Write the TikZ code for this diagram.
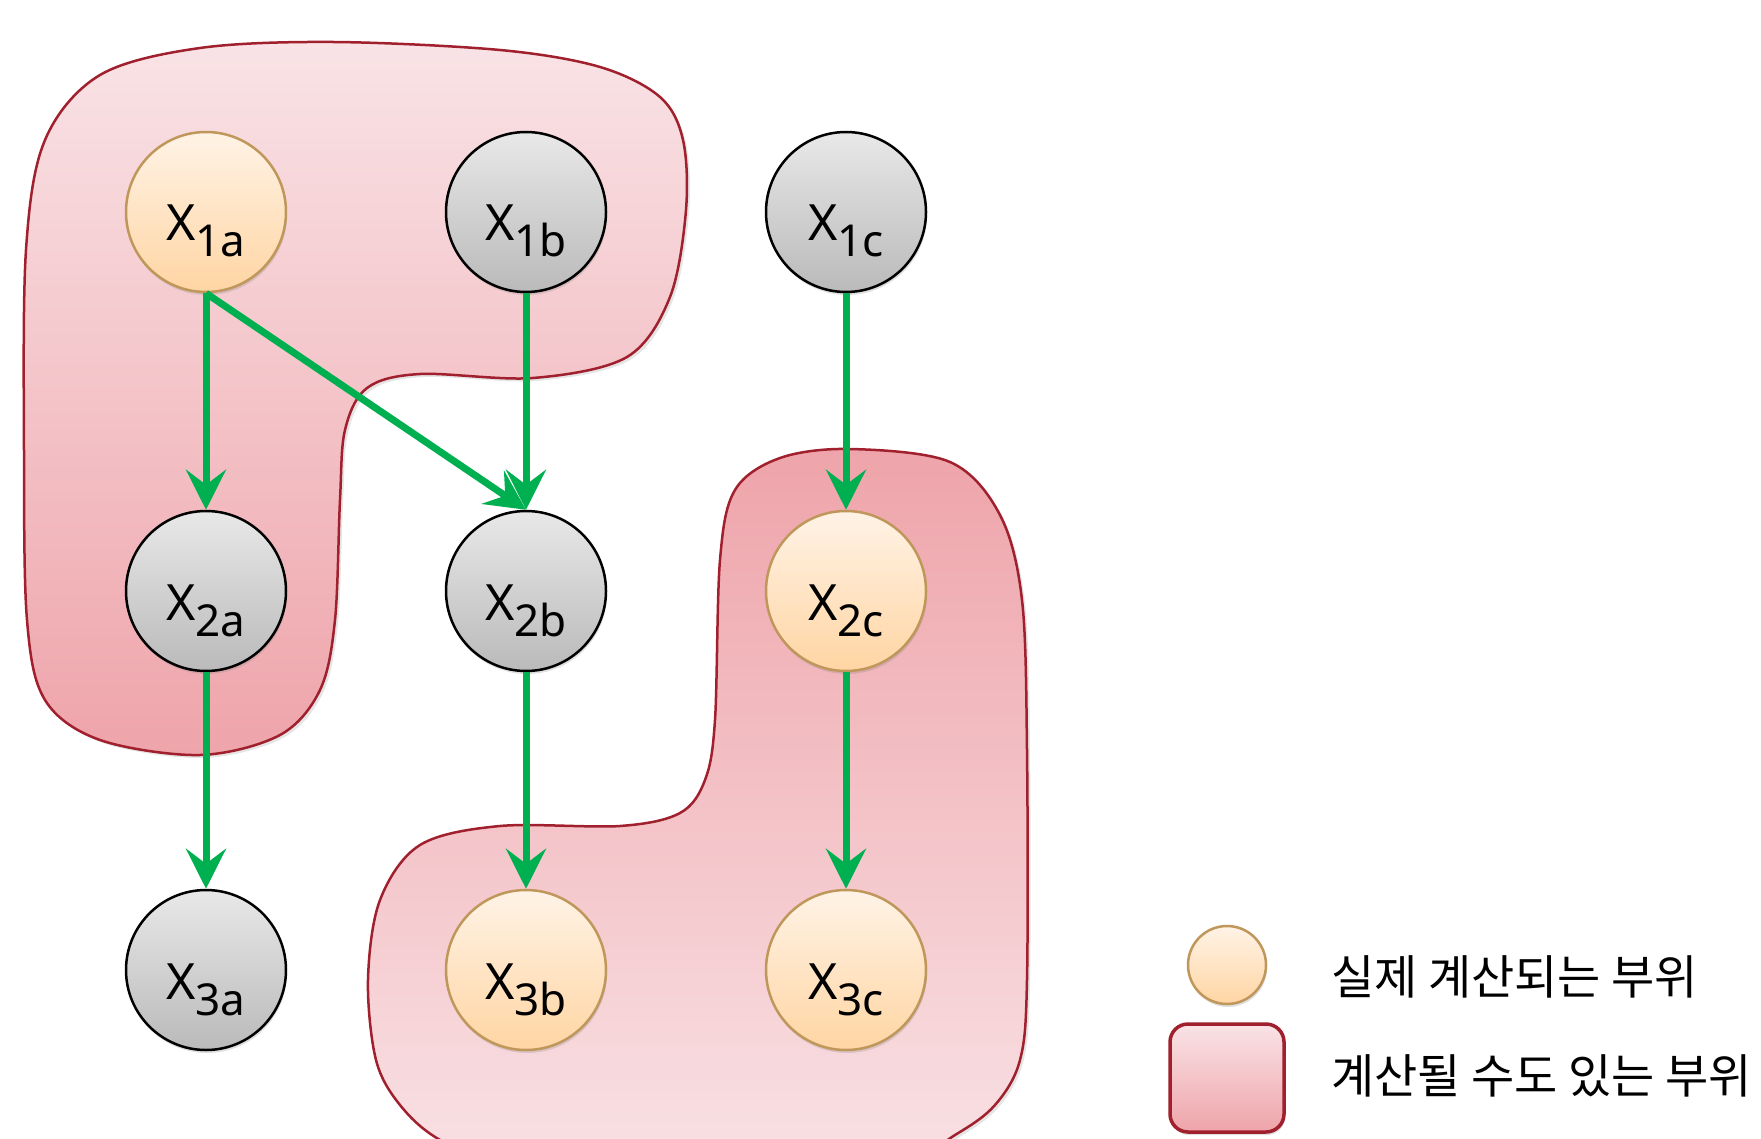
\documentclass[tikz,border=0pt]{standalone}
\usepackage{fontspec}
\newfontfamily\krfont{Noto Sans CJK KR}
\newfontfamily\lblfont{Noto Sans}
\usetikzlibrary{arrows.meta,shadows}
\definecolor{orangeedge}{HTML}{C0975A}
\definecolor{orangetop}{HTML}{FFF3E6}
\definecolor{orangebot}{HTML}{FFD5A3}
\definecolor{graytop}{HTML}{E8E8E8}
\definecolor{graybot}{HTML}{BABABA}
\definecolor{arrowgreen}{HTML}{00B050}
\definecolor{blobedge}{HTML}{A0202E}
\definecolor{pinklight}{HTML}{F9E3E6}
\definecolor{pinkdark}{HTML}{EEA4AA}
\newcommand\xsub[1]{X\raisebox{-16pt}{\fontsize{44}{44}\selectfont #1}}
\tikzset{
  vnode/.style={circle, minimum size=160pt, inner sep=0pt, line width=2.5pt,
    text height=58pt, text depth=0pt, font=\lblfont\fontsize{50}{50}\selectfont,
    drop shadow={opacity=0.25, shadow xshift=1pt, shadow yshift=-3pt}},
  donenode/.style={vnode, draw=orangeedge, top color=orangetop, bottom color=orangebot},
  idlenode/.style={vnode, draw=black, top color=graytop, bottom color=graybot},
  link/.style={draw=arrowgreen, line width=7pt, -{Stealth[length=40pt,width=40pt,inset=15pt]}},
  blobline/.style={draw=blobedge, line width=2.5pt,
    drop shadow={opacity=0.2, shadow xshift=3pt, shadow yshift=-3pt}},
  legtext/.style={anchor=base west, inner sep=0pt, font=\krfont\fontsize{47}{47}\selectfont}
}
\begin{document}
\begin{tikzpicture}[x=1pt, y=-1pt]
\useasboundingbox (0,0) rectangle (1761,1139);
\clip (0,0) rectangle (1761,1139);
\fill[white] (0,0) rectangle (1761,1139);

% blob 1 (top-left)
\path[blobline, top color=pinklight, bottom color=pinkdark]
  plot[smooth cycle, tension=0.55] coordinates {
  (24,450) (26,250) (45,140) (100,75) (200,48) (333,42) (500,50) (600,67)
  (660,97) (683,140) (686,210) (670,297) (627,357) (533,378) (420,374)
  (367,388) (345,430) (340,500) (335,620) (320,690) (280,735) (200,755)
  (100,740) (45,700) (27,620)};

% blob 2 (bottom-right)
\path[blobline, top color=pinkdark, bottom color=pinklight]
  plot[smooth cycle, tension=0.55] coordinates {
  (850,449) (950,462) (1000,515) (1022,600) (1027,750) (1027,980)
  (1020,1060) (995,1105) (955,1135) (880,1175) (700,1190) (520,1175)
  (440,1140) (400,1105) (376,1060) (368,980) (380,900) (420,845)
  (500,826) (620,826) (680,813) (705,780) (715,720) (720,560) (735,490)
  (780,458)};

% nodes
\node[donenode] (x1a) at (206,212) {\xsub{1a}};
\node[idlenode] (x1b) at (526,212) {\xsub{1b}};
\node[idlenode] (x1c) at (846,212) {\xsub{1c}};
\node[idlenode] (x2a) at (206,591) {\xsub{2a}};
\node[idlenode] (x2b) at (526,591) {\xsub{2b}};
\node[donenode] (x2c) at (846,591) {\xsub{2c}};
\node[idlenode] (x3a) at (206,970) {\xsub{3a}};
\node[donenode] (x3b) at (526,970) {\xsub{3b}};
\node[donenode] (x3c) at (846,970) {\xsub{3c}};

% connectors
\draw[link] (x1a.south) -- (x2a.north);
\draw[link] (x1a.south) -- (x2b.north);
\draw[link] (x1b.south) -- (x2b.north);
\draw[link] (x1c.south) -- (x2c.north);
\draw[link] (x2a.south) -- (x3a.north);
\draw[link] (x2b.south) -- (x3b.north);
\draw[link] (x2c.south) -- (x3c.north);

% legend
\node[donenode, minimum size=78pt] (legcirc) at (1227,965) {};
\node[draw=blobedge, line width=3.5pt, rounded corners=18pt, top color=pinklight,
  bottom color=pinkdark, minimum width=114pt, minimum height=108pt,
  drop shadow={opacity=0.25, shadow xshift=1pt, shadow yshift=-3pt}] (legbox) at (1227,1078) {};
\node[legtext] (leg1) at (1331,994) {실제 계산되는 부위};
\node[legtext] (leg2) at (1331,1093) {계산될 수도 있는 부위};
\end{tikzpicture}
\end{document}
